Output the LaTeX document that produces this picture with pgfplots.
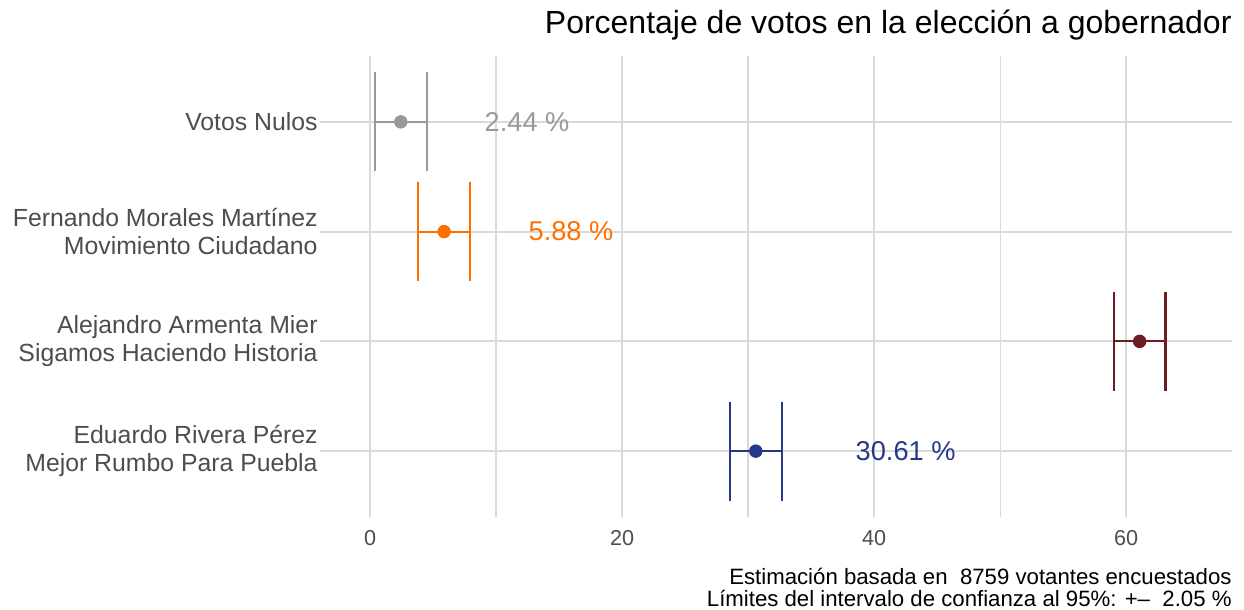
\documentclass[border=0pt]{standalone}
\usepackage{fontspec}
\setmainfont{Liberation Sans}
\usepackage{pgfplots}
\pgfplotsset{compat=1.18}
\definecolor{gridc}{RGB}{218,218,218}
\definecolor{tickc}{RGB}{77,77,77}
\definecolor{cnul}{RGB}{153,153,153}
\definecolor{cmc}{RGB}{255,111,0}
\definecolor{cmor}{RGB}{107,29,31}
\definecolor{cpan}{RGB}{39,55,138}
\begin{document}
\begin{tikzpicture}[x=1pt,y=1pt]
\path[use as bounding box] (0,0) rectangle (622,305);
\begin{axis}[at={(160pt,46.5pt)}, anchor=south west, scale only axis,
  width=456pt, height=230.5pt,
  xmin=-3.97, xmax=68.4, ymin=0.4, ymax=4.6,
  axis line style={draw=none}, tick style={draw=none},
  xtick={0,20,40,60}, minor xtick={10,30,50},
  ytick={1,2,3,4},
  xmajorgrids, xminorgrids, ymajorgrids,
  major grid style={gridc, line width=0.9pt},
  minor grid style={gridc, line width=0.6pt},
  yticklabels={{Eduardo Rivera Pérez\\Mejor Rumbo Para Puebla},
               {Alejandro Armenta Mier\\Sigamos Haciendo Historia},
               {Fernando Morales Martínez\\Movimiento Ciudadano},
               {Votos Nulos}},
  yticklabel style={align=right, text=tickc, font=\fontsize{12.4}{14}\selectfont, inner sep=1pt},
  xticklabel style={text=tickc, font=\fontsize{10.8}{12}\selectfont, yshift=-3pt},
  /pgf/number format/assume math mode=true,
  clip=false,
]
\addplot[cnul, line width=1.1pt, mark=*, mark size=3.1pt, mark options={fill=cnul, line width=0.5pt},
  error bars/.cd, x dir=both, x explicit, error mark=|,
  error mark options={cnul, mark size=24.7pt, line width=1.1pt},
  error bar style={line width=1.1pt}]
  coordinates {(2.44,4) +- (2.05,0)};
\addplot[cmc, line width=1.1pt, mark=*, mark size=3.1pt, mark options={fill=cmc, line width=0.5pt},
  error bars/.cd, x dir=both, x explicit, error mark=|,
  error mark options={cmc, mark size=24.7pt, line width=1.1pt},
  error bar style={line width=1.1pt}]
  coordinates {(5.88,3) +- (2.05,0)};
\addplot[cmor, line width=1.1pt, mark=*, mark size=3.1pt, mark options={fill=cmor, line width=0.5pt},
  error bars/.cd, x dir=both, x explicit, error mark=|,
  error mark options={cmor, mark size=24.7pt, line width=1.1pt},
  error bar style={line width=1.1pt}]
  coordinates {(61.07,2) +- (2.05,0)};
\addplot[cpan, line width=1.1pt, mark=*, mark size=3.1pt, mark options={fill=cpan, line width=0.5pt},
  error bars/.cd, x dir=both, x explicit, error mark=|,
  error mark options={cpan, mark size=24.7pt, line width=1.1pt},
  error bar style={line width=1.1pt}]
  coordinates {(30.61,1) +- (2.05,0)};
\node[text=cnul, font=\fontsize{13.6}{15}\selectfont] at (axis cs:12.46,4) {2.44 \%};
\node[text=cmc, font=\fontsize{13.6}{15}\selectfont] at (axis cs:15.95,3) {5.88 \%};
\node[text=cpan, font=\fontsize{13.6}{15}\selectfont] at (axis cs:42.5,1) {30.61 \%};
\end{axis}
\node[anchor=east, font=\fontsize{16}{18}\selectfont, inner sep=0pt] at (616,292.5) {Porcentaje de votos en la elección a gobernador};
\node[anchor=south east, align=right, font=\fontsize{11.1}{11}\selectfont, inner sep=0pt] at (616,1.5) {Estimación basada en \ 8759 votantes encuestados\\Límites del intervalo de confianza al 95\%: +–\ \ 2.05 \%};
\end{tikzpicture}
\end{document}
